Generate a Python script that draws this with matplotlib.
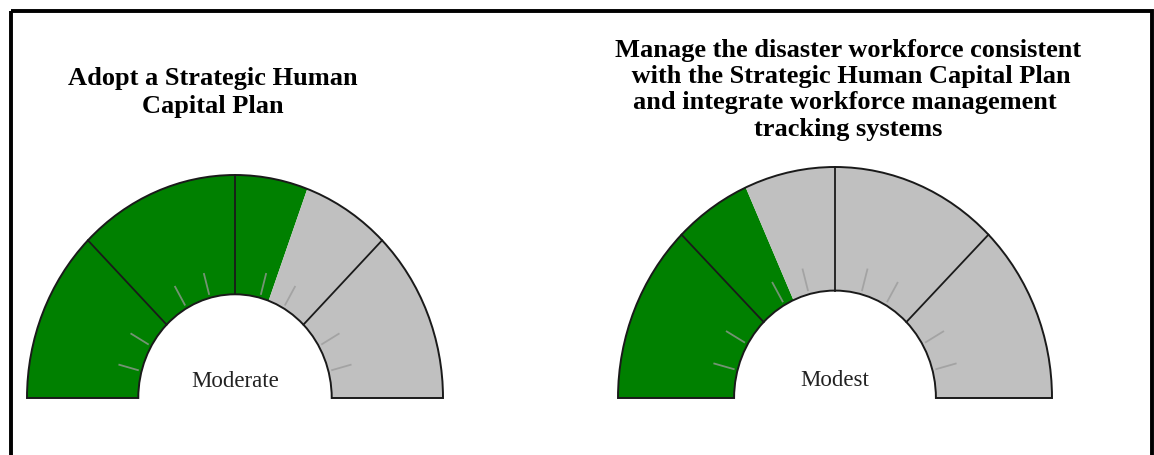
import numpy as np
import matplotlib.pyplot as plt
from matplotlib.patches import Wedge, Rectangle

# Chart content
titles = [
    ["Adopt a Strategic Human", "Capital Plan"],
    ["Manage the disaster workforce consistent",
     " with the Strategic Human Capital Plan",
     "and integrate workforce management ",
     "tracking systems"],
]
ratings = ["Moderate", "Modest"]
filled = [0.613, 0.365]            # share of the dial shown in green
section_edges = [45, 90, 135]      # degrees from the left end of the dial
tick_angles = [15, 30, 60, 75, 105, 120, 150, 165]

GREEN = "#008000"
GRAY = "#c0c0c0"
R_IN = 0.465

# Layout (pixels)
W, H = 1154, 455
gauge_cx = [235, 835]
gauge_rx = [208, 217]
gauge_ry = [223, 231]
gauge_base = 398
title_cx = [213, 848]
title_y0 = [78, 50]
title_step = [29, 26.5]

plt.rcParams["font.family"] = ["Liberation Serif", "DejaVu Serif"]

fig = plt.figure(figsize=(W / 100, H / 100), dpi=100)
bg = fig.add_axes([0, 0, 1, 1])
bg.set_xlim(0, W)
bg.set_ylim(H, 0)
bg.axis("off")

# frame (open at the bottom, as in the source)
bg.add_patch(Rectangle((10.5, 10.5), 1141.5, 520, fill=False, ec="black", lw=2.8))

for i in range(2):
    for k, line in enumerate(titles[i]):
        bg.text(title_cx[i], title_y0[i] + k * title_step[i], line,
                ha="center", va="center", fontsize=19, fontweight="bold")

    m = 0.05
    rx, ry = gauge_rx[i], gauge_ry[i]
    left = (gauge_cx[i] - rx * (1 + m)) / W
    bottom = (H - gauge_base - ry * m) / H
    ax = fig.add_axes([left, bottom, 2 * rx * (1 + m) / W, ry * (1 + 2 * m) / H])
    ax.set_xlim(-1 - m, 1 + m)
    ax.set_ylim(-m, 1 + m)
    ax.axis("off")

    split = 180 - filled[i] * 180
    ax.add_patch(Wedge((0, 0), 1, split, 180, width=1 - R_IN, fc=GREEN, ec="none"))
    ax.add_patch(Wedge((0, 0), 1, 0, split, width=1 - R_IN, fc=GRAY, ec="none"))

    for a in tick_angles:
        t = np.radians(180 - a)
        ax.plot([R_IN * 1.03 * np.cos(t), (R_IN + 0.115) * np.cos(t)],
                [R_IN * 1.03 * np.sin(t), (R_IN + 0.115) * np.sin(t)],
                color="#9a9a9a", alpha=0.75, lw=1.3, solid_capstyle="butt")

    for a in section_edges:
        t = np.radians(180 - a)
        ax.plot([R_IN * np.cos(t), np.cos(t)], [R_IN * np.sin(t), np.sin(t)],
                color="#1a1a1a", lw=1.3)

    ax.add_patch(Wedge((0, 0), 1, 0, 180, width=1 - R_IN, fill=False,
                       ec="#1a1a1a", lw=1.4))

    ax.text(0, 0.076, ratings[i], ha="center", va="center", fontsize=16.5,
            color="#222222")

fig.savefig("out.png", dpi=100)
